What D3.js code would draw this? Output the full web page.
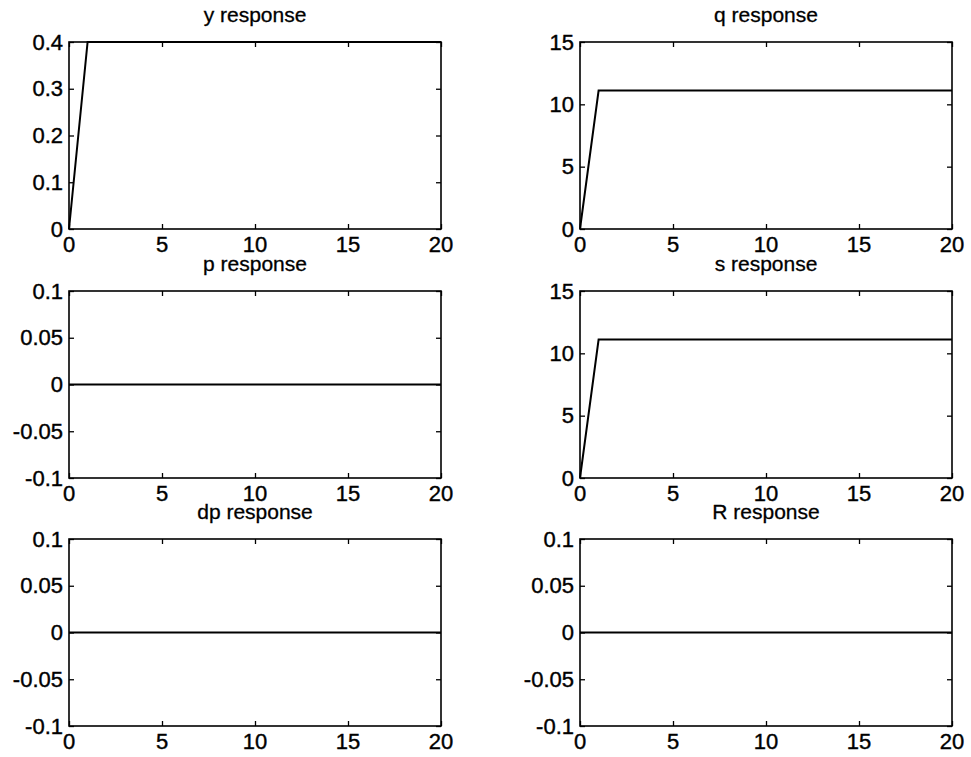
<!DOCTYPE html>
<html>
<head>
<meta charset="utf-8">
<script src="https://d3js.org/d3.v7.min.js"></script>
<style>
  body { margin: 0; background: #fff; }
  text { font-family: "Liberation Sans", Arial, sans-serif; fill: #000; }
</style>
</head>
<body>
<svg width=971 height=757></svg>

<script>

// periods 0..20
var periods = [0,1,2,3,4,5,6,7,8,9,10,11,12,13,14,15,16,17,18,19,20];

// impulse responses
var yResp  = [0,0.4,0.4,0.4,0.4,0.4,0.4,0.4,0.4,0.4,0.4,0.4,0.4,0.4,0.4,0.4,0.4,0.4,0.4,0.4,0.4];
var qResp  = [0,11.1,11.1,11.1,11.1,11.1,11.1,11.1,11.1,11.1,11.1,11.1,11.1,11.1,11.1,11.1,11.1,11.1,11.1,11.1,11.1];
var pResp  = [0,0,0,0,0,0,0,0,0,0,0,0,0,0,0,0,0,0,0,0,0];
var sResp  = [0,11.1,11.1,11.1,11.1,11.1,11.1,11.1,11.1,11.1,11.1,11.1,11.1,11.1,11.1,11.1,11.1,11.1,11.1,11.1,11.1];
var dpResp = [0,0,0,0,0,0,0,0,0,0,0,0,0,0,0,0,0,0,0,0,0];
var RResp  = [0,0,0,0,0,0,0,0,0,0,0,0,0,0,0,0,0,0,0,0,0];

var titles = ['y response','q response','p response','s response','dp response','R response'];

// axis limits and tick labels
var xTicks = [0,5,10,15,20];
var yTicksSmall = [0,0.1,0.2,0.3,0.4];
var yTicksBig   = [0,5,10,15];
var yTicksZero  = [-0.1,-0.05,0,0.05,0.1];

var panels = [
  { title: titles[0], values: yResp,  ticks: yTicksSmall, dom: [0,0.4] },
  { title: titles[1], values: qResp,  ticks: yTicksBig,   dom: [0,15] },
  { title: titles[2], values: pResp,  ticks: yTicksZero,  dom: [-0.1,0.1] },
  { title: titles[3], values: sResp,  ticks: yTicksBig,   dom: [0,15] },
  { title: titles[4], values: dpResp, ticks: yTicksZero,  dom: [-0.1,0.1] },
  { title: titles[5], values: RResp,  ticks: yTicksZero,  dom: [-0.1,0.1] }
];

var colX = [69, 580];
var rowY = [42, 291, 539];
var pw = 372, ph = 187;
var fs = 22;

var svg = d3.select('svg');

function fmt(v) {
  return String(v);   // plain hyphen minus like matlab
}

panels.forEach(function(p, i) {
  var left = colX[i % 2], top = rowY[Math.floor(i / 2)];

  var x = d3.scaleLinear().domain([0,20]).range([left, left + pw]);
  var y = d3.scaleLinear().domain(p.dom).range([top + ph, top]);

  var g = svg.append('g');

  // inward ticks, all four sides
  g.append('g')
    .attr('transform', 'translate(0,' + (top + ph) + ')')
    .call(d3.axisTop(x).tickValues(xTicks).tickSize(5).tickFormat(''))
    .call(a => a.select('.domain').remove());
  g.append('g')
    .attr('transform', 'translate(0,' + top + ')')
    .call(d3.axisBottom(x).tickValues(xTicks).tickSize(5).tickFormat(''))
    .call(a => a.select('.domain').remove());
  g.append('g')
    .attr('transform', 'translate(' + left + ',0)')
    .call(d3.axisRight(y).tickValues(p.ticks).tickSize(5).tickFormat(''))
    .call(a => a.select('.domain').remove());
  g.append('g')
    .attr('transform', 'translate(' + (left + pw) + ',0)')
    .call(d3.axisLeft(y).tickValues(p.ticks).tickSize(5).tickFormat(''))
    .call(a => a.select('.domain').remove());
  g.selectAll('.tick line').attr('stroke', '#000').attr('stroke-width', 1.3);

  // tick labels
  g.selectAll('text.xl')
    .data(xTicks)
    .enter().append('text')
      .attr('class', 'xl')
      .attr('x', d => x(d))
      .attr('y', top + ph + 23)
      .attr('text-anchor', 'middle')
      .style('font-size', fs + 'px')
      .style('stroke', '#000').style('stroke-width', 0.4)
      .text(fmt);

  g.selectAll('text.yl')
    .data(p.ticks)
    .enter().append('text')
      .attr('class', 'yl')
      .attr('x', left - 6)
      .attr('y', d => y(d))
      .attr('dy', '0.35em')
      .attr('text-anchor', 'end')
      .style('font-size', fs + 'px')
      .style('stroke', '#000').style('stroke-width', 0.4)
      .text(fmt);

  // data line
  var line = d3.line()
    .x((d, k) => x(periods[k]))
    .y(d => y(d));

  g.append('path')
    .datum(p.values)
    .attr('d', line)
    .attr('fill', 'none')
    .attr('stroke', '#000')
    .attr('stroke-width', 2);

  // box
  g.append('rect')
    .attr('x', left).attr('y', top)
    .attr('width', pw).attr('height', ph)
    .attr('fill', 'none')
    .attr('stroke', '#000')
    .attr('stroke-width', 1.6);

  g.append('text')
    .attr('x', left + pw / 2)
    .attr('y', top - 20)
    .attr('text-anchor', 'middle')
    .style('font-size', (fs - 1) + 'px')
    .style('stroke', '#000').style('stroke-width', 0.3)
    .text(p.title);
});

</script>
</body>
</html>
